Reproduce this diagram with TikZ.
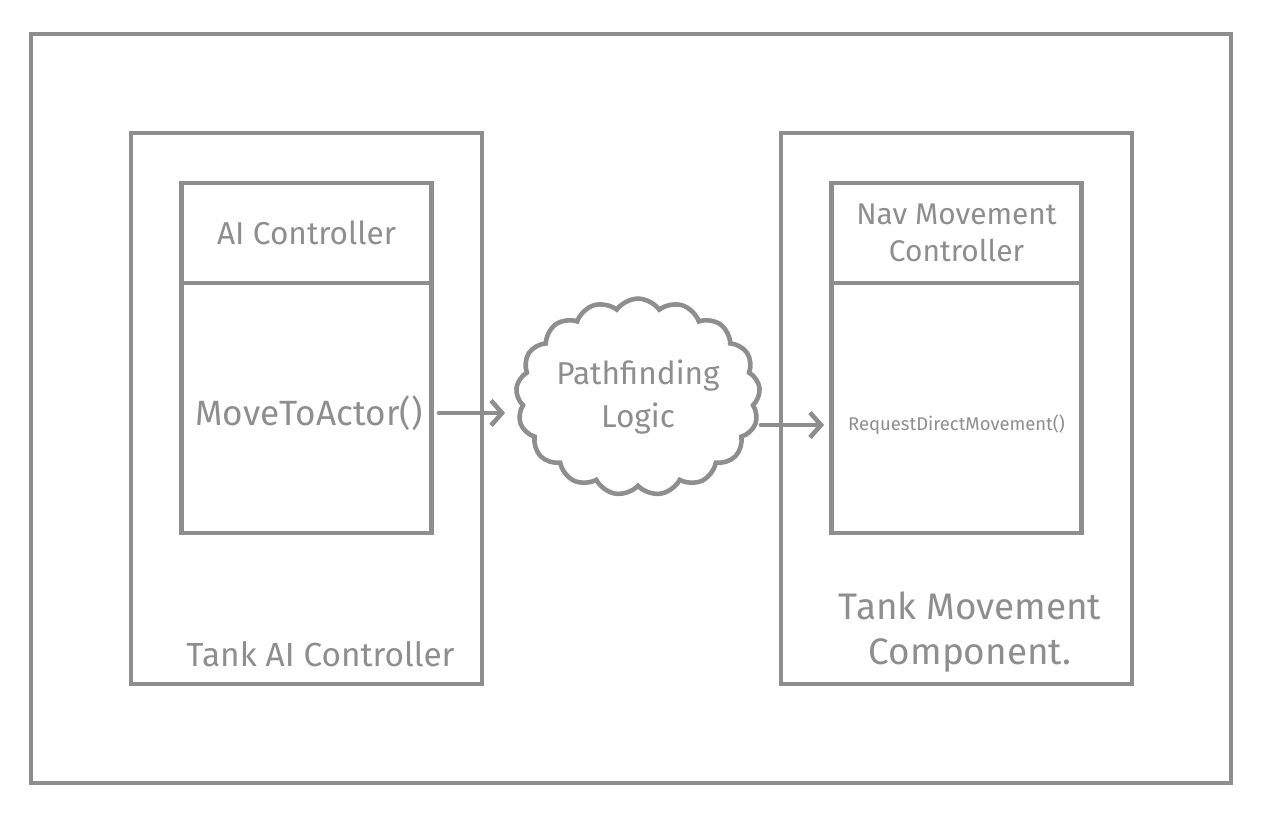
\documentclass[tikz,border=0pt]{standalone}
\usepackage{fontspec}
\setmainfont{Fira Sans}
\usetikzlibrary{positioning, arrows.meta, shapes.symbols}
\definecolor{sketchgray}{RGB}{142,142,142}

\begin{document}
\begin{tikzpicture}[
        frame/.style={draw=sketchgray, line width=2.6pt, rectangle, outer sep=0pt, inner sep=0pt},
        hand/.style={text=sketchgray, align=center, inner sep=1pt},
        cloudbox/.style={draw=sketchgray, line width=2.6pt, cloud, cloud puffs=17, cloud puff arc=110, aspect=1.3, inner sep=0pt, minimum width=3.9cm, minimum height=2.8cm, text=sketchgray, align=center},
        flow/.style={-{Straight Barb[length=2.2mm, width=5mm, line width=2.6pt]}, draw=sketchgray, line width=2.6pt, line cap=round}
    ]
    \useasboundingbox (0,0) rectangle (25.26,16.38);

    % --- outer frame ---
    \node[frame, minimum width=24cm, minimum height=14.98cm] (outer) at (12.62,8.21) {};

    % --- LEFT: Tank AI Controller ---
    \node[frame, minimum width=7.02cm, minimum height=11.02cm] (tankai) at (6.13,8.21) {};
    \node[frame, minimum width=5cm, minimum height=2cm, anchor=north, hand, font=\fontsize{18}{22}\selectfont] (aihead) at ([yshift=-1cm]tankai.north) {AI Controller};
    \node[frame, minimum width=5cm, minimum height=5cm, below=0pt of aihead] (aibody) {};
    \node[hand, font=\fontsize{20}{24}\selectfont] (moveto) at ([xshift=0.05cm, yshift=-0.1cm]aibody.center) {MoveToActor()};
    \node[hand, font=\fontsize{19}{23}\selectfont] (tankailbl) at ([xshift=0.28cm, yshift=0.6cm]tankai.south) {Tank AI Controller};

    % --- MIDDLE: cloud ---
    \node[cloudbox, font=\fontsize{18}{24}\selectfont] (cloud) at (12.76,8.44) {Pathfinding\\Logic};

    % --- RIGHT: Tank Movement Component ---
    \node[frame, minimum width=7.02cm, minimum height=11.02cm] (tankmove) at (19.13,8.21) {};
    \node[frame, minimum width=5cm, minimum height=2cm, anchor=north, hand, font=\fontsize{17}{21}\selectfont] (navhead) at ([yshift=-1cm]tankmove.north) {Nav Movement\\Controller};
    \node[frame, minimum width=5cm, minimum height=5cm, below=0pt of navhead] (navbody) {};
    \node[hand, font=\fontsize{10.5}{13}\selectfont] (reqfn) at ([yshift=-0.34cm]navbody.center) {RequestDirectMovement()};
    \node[hand, font=\fontsize{21}{26}\selectfont] (tankmovelbl) at ([xshift=0.27cm, yshift=1.04cm]tankmove.south) {Tank Movement\\Component.};

    % --- arrows ---
    \draw[flow, shorten <=0.15cm, shorten >=0.2cm] (moveto.east -| aibody.east) -- (moveto.east -| cloud.west);
    \draw[flow, shorten >=0.15cm] (reqfn.west -| cloud.east) -- (reqfn.west -| navbody.west);
\end{tikzpicture}
\end{document}
